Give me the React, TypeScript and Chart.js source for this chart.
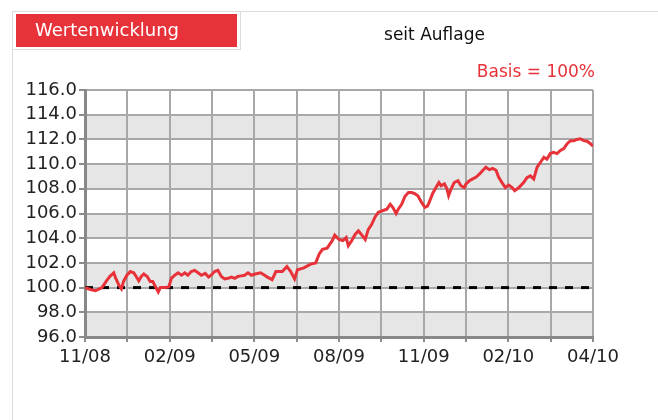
import React, { useEffect, useRef } from "react";
import { Chart, registerables } from "chart.js";

Chart.register(...registerables);

// x position in grid steps (0 = 11/08 ... 12 = 04/10), value in % (Basis = 100)
const positions = [
  0, 0.13, 0.24, 0.28, 0.4, 0.52, 0.6, 0.68, 0.72, 0.8, 0.86, 0.91, 0.99, 1.07, 1.15, 1.21, 1.27, 1.33, 1.39,
  1.47, 1.54, 1.6, 1.66, 1.73, 1.78, 1.9, 1.98, 2.04, 2.12, 2.2, 2.28, 2.36, 2.43, 2.51, 2.59, 2.67, 2.75,
  2.84, 2.92, 2.98, 3.06, 3.14, 3.22, 3.3, 3.38, 3.46, 3.54, 3.61, 3.69, 3.77, 3.85, 3.93, 4.02, 4.15, 4.31,
  4.42, 4.51, 4.66, 4.77, 4.86, 4.95, 5.02, 5.17, 5.33, 5.45, 5.53, 5.61, 5.72, 5.84, 5.9, 6.0, 6.09, 6.17,
  6.22, 6.3, 6.38, 6.46, 6.54, 6.62, 6.69, 6.77, 6.85, 6.93, 7.01, 7.13, 7.21, 7.27, 7.35, 7.4, 7.48, 7.56,
  7.64, 7.72, 7.8, 7.87, 7.95, 8.03, 8.09, 8.13, 8.21, 8.29, 8.36, 8.41, 8.49, 8.55, 8.59, 8.65, 8.72, 8.81,
  8.88, 8.96, 9.0, 9.08, 9.16, 9.24, 9.32, 9.4, 9.47, 9.55, 9.63, 9.71, 9.77, 9.85, 9.93, 10.01, 10.09, 10.15,
  10.25, 10.36, 10.44, 10.52, 10.6, 10.68, 10.76, 10.84, 10.91, 10.99, 11.07, 11.15, 11.23, 11.31, 11.39,
  11.47, 11.55, 11.62, 11.7, 11.78, 11.86, 11.94, 12.0,
];
const values = [
  100.0, 99.85, 99.75, 99.8, 100.0, 100.6, 100.95, 101.2, 100.8, 100.2, 99.9, 100.5, 101.0, 101.3, 101.2, 100.9,
  100.55, 100.9, 101.1, 100.9, 100.5, 100.5, 100.1, 99.65, 100.0, 100.0, 100.05, 100.75, 101.0, 101.2, 101.0,
  101.2, 101.0, 101.3, 101.4, 101.2, 101.0, 101.15, 100.85, 101.0, 101.3, 101.4, 100.9, 100.7, 100.75, 100.85,
  100.75, 100.9, 100.95, 101.0, 101.2, 101.0, 101.1, 101.2, 100.85, 100.65, 101.3, 101.3, 101.7, 101.3, 100.7,
  101.45, 101.6, 101.9, 102.0, 102.7, 103.1, 103.2, 103.8, 104.25, 103.9, 103.8, 104.05, 103.4, 103.8, 104.3,
  104.6, 104.25, 103.9, 104.7, 105.1, 105.7, 106.1, 106.2, 106.35, 106.75, 106.5, 106.0, 106.35, 106.75, 107.4,
  107.7, 107.7, 107.6, 107.4, 106.9, 106.5, 106.6, 106.9, 107.6, 108.1, 108.5, 108.25, 108.4, 108.0, 107.45,
  108.0, 108.5, 108.65, 108.25, 108.1, 108.4, 108.65, 108.8, 108.95, 109.2, 109.5, 109.75, 109.55, 109.65,
  109.5, 108.95, 108.5, 108.1, 108.3, 108.1, 107.85, 108.1, 108.5, 108.9, 109.05, 108.8, 109.75, 110.15, 110.55,
  110.4, 110.85, 110.95, 110.85, 111.1, 111.25, 111.65, 111.9, 111.9, 112.0, 112.05, 111.9, 111.85, 111.65,
  111.45,
];
const xLabels = ["11/08", "", "02/09", "", "05/09", "", "08/09", "", "11/09", "", "02/10", "", "04/10"];
const yMin = 96;
const yMax = 116;
const yStep = 2;
const basisValue = 100;

const RED = "#e8323a";
const FONT = "'DejaVu Sans', Verdana, sans-serif";

const bandsPlugin = {
  id: "bands",
  beforeDraw(chart: any) {
    const { ctx, chartArea, scales } = chart;
    const y = scales.y;
    ctx.save();
    ctx.fillStyle = "#e6e6e6";
    let i = 0;
    for (let v = yMin; v < yMax; v += yStep, i++) {
      if (i % 2 === 0) {
        const top = y.getPixelForValue(v + yStep);
        const bottom = y.getPixelForValue(v);
        ctx.fillRect(chartArea.left, top, chartArea.right - chartArea.left, bottom - top);
      }
    }
    ctx.restore();
  },
};

export default function App() {
  const ref = useRef<HTMLCanvasElement>(null);

  useEffect(() => {
    if (!ref.current) return;
    const chart = new Chart(ref.current, {
      type: "line",
      data: {
        datasets: [
          {
            data: positions.map((x, i) => ({ x, y: values[i] })),
            borderColor: RED,
            borderWidth: 3,
            pointRadius: 0,
            tension: 0,
          },
          {
            data: [
              { x: 0, y: basisValue },
              { x: 12, y: basisValue },
            ],
            borderColor: "#000",
            borderWidth: 3,
            borderDash: [8, 8],
            pointRadius: 0,
          },
        ],
      },
      options: {
        responsive: false,
        animation: false,
        events: [],
        layout: { padding: { top: 90, right: 65, left: 0, bottom: 0 } },
        plugins: { legend: { display: false }, tooltip: { enabled: false } },
        scales: {
          x: {
            type: "linear",
            min: 0,
            max: 12,
            afterFit: (s: any) => {
              s.height = 83;
            },
            ticks: {
              stepSize: 1,
              autoSkip: false,
              maxRotation: 0,
              padding: 5,
              color: "#222",
              font: { family: FONT, size: 18 },
              callback: (v: any) => xLabels[Math.round(Number(v))] ?? "",
            },
            grid: { color: "#a8a8a8", lineWidth: 2, tickLength: 5, tickColor: "#8c8c8c", tickWidth: 2 },
            border: { color: "#888", width: 3 },
          },
          y: {
            min: yMin,
            max: yMax,
            afterFit: (s: any) => {
              s.width = 85;
            },
            ticks: {
              stepSize: yStep,
              padding: 2,
              color: "#222",
              font: { family: FONT, size: 18 },
              callback: (v: any) => Number(v).toFixed(1),
            },
            grid: { color: "#a8a8a8", lineWidth: 2, tickLength: 6, tickColor: "#8c8c8c", tickWidth: 2 },
            border: { color: "#888", width: 3 },
          },
        },
      },
      plugins: [bandsPlugin],
    });
    return () => chart.destroy();
  }, []);

  return (
    <div
      style={{
        position: "fixed",
        left: 0,
        top: 0,
        width: 658,
        height: 420,
        background: "#fff",
        overflow: "hidden",
        fontFamily: FONT,
      }}
    >
      <canvas ref={ref} width={658} height={420} style={{ position: "absolute", left: 0, top: 0, width: 658, height: 420 }} />
      <div
        style={{
          position: "absolute",
          left: 12,
          top: 11,
          width: 700,
          height: 500,
          borderLeft: "1px solid #dcdcdc",
          borderTop: "1px solid #dcdcdc",
        }}
      />
      <div
        style={{
          position: "absolute",
          left: 12,
          top: 11,
          width: 229,
          height: 39,
          border: "1px solid #dcdcdc",
          boxSizing: "border-box",
        }}
      />
      <div style={{ position: "absolute", left: 16, top: 14, width: 221, height: 33, background: RED }} />
      <div
        style={{
          position: "absolute",
          left: 35,
          top: 20,
          lineHeight: "20px",
          fontSize: 18,
          color: "#fff",
          whiteSpace: "nowrap",
        }}
      >
        Wertenwicklung
      </div>
      <div
        style={{
          position: "absolute",
          left: 334,
          top: 24,
          width: 201,
          textAlign: "center",
          lineHeight: "20px",
          fontSize: 17,
          color: "#111",
          whiteSpace: "nowrap",
        }}
      >
        seit Auflage
      </div>
      <div
        style={{
          position: "absolute",
          left: 395,
          top: 61,
          width: 200,
          textAlign: "right",
          lineHeight: "20px",
          fontSize: 17,
          color: RED,
          whiteSpace: "nowrap",
        }}
      >
        Basis = 100%
      </div>
    </div>
  );
}
